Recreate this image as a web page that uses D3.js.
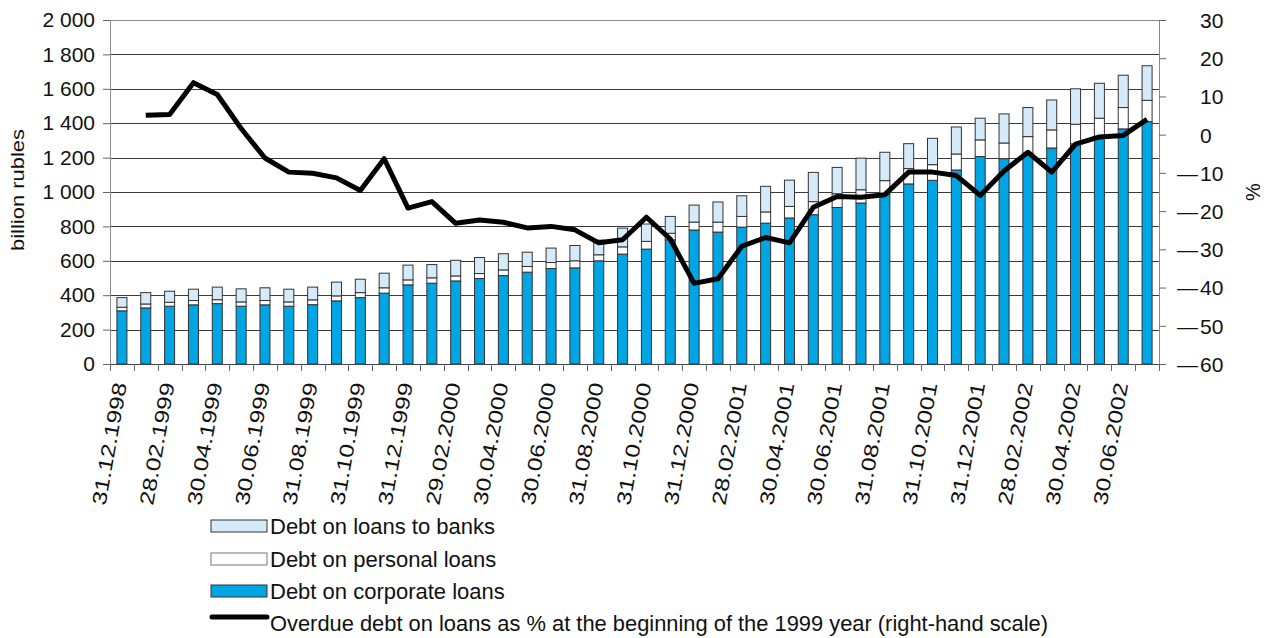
<!DOCTYPE html>
<html>
<head>
<meta charset="utf-8">
<script src="https://cdn.jsdelivr.net/npm/d3@7"></script>
<style>
  body { margin: 0; background: #fff; }
  text { font-family: "Liberation Sans", Arial, Helvetica, sans-serif; fill: #111; }
</style>
</head>
<body>
<div id="chart"></div>
<script>
// month-end dates, 31.12.1998 .. 31.07.2002
const dates = [
  '31.12.1998', '31.01.1999', '28.02.1999', '31.03.1999', '30.04.1999', '31.05.1999',
  '30.06.1999', '31.07.1999', '31.08.1999', '30.09.1999', '31.10.1999', '30.11.1999',
  '31.12.1999', '31.01.2000', '29.02.2000', '31.03.2000', '30.04.2000', '31.05.2000',
  '30.06.2000', '31.07.2000', '31.08.2000', '30.09.2000', '31.10.2000', '30.11.2000',
  '31.12.2000', '31.01.2001', '28.02.2001', '31.03.2001', '30.04.2001', '31.05.2001',
  '30.06.2001', '31.07.2001', '31.08.2001', '30.09.2001', '31.10.2001', '30.11.2001',
  '31.12.2001', '31.01.2002', '28.02.2002', '31.03.2002', '30.04.2002', '31.05.2002',
  '30.06.2002', '31.07.2002'
]

// billion rubles
const corporate = [309, 326, 336, 344, 351, 336, 344, 336, 345, 367, 386, 412, 460, 470, 483,
  497, 514, 534, 555, 559, 600, 639, 668, 722, 779, 767, 796, 819, 849, 868, 910, 936, 984,
  1047, 1068, 1128, 1206, 1194, 1225, 1256, 1280, 1320, 1367, 1409]
const personal = [21, 23, 23, 25, 23, 25, 25, 25, 28, 29, 29, 31, 29, 31, 29, 29, 33, 33, 35,
  41, 35, 42, 45, 38, 46, 58, 62, 65, 67, 76, 80, 77, 82, 89, 91, 93, 97, 91, 97, 105, 114,
  109, 124, 124]
const banks = [56, 66, 64, 66, 73, 76, 74, 74, 74, 80, 78, 85, 86, 77, 91, 93, 94, 83, 84, 89,
  85, 109, 101, 98, 99, 117, 120, 149, 153, 170, 153, 184, 165, 145, 153, 157, 126, 169, 169,
  174, 206, 203, 188, 201]

// overdue debt, % to the beginning of 1999 (right-hand scale)
const overdue = [null, 5.1, 5.3, 13.6, 10.5, 1.6, -6.1, -9.8, -10.1, -11.3, -14.6, -6.3, -19.2,
  -17.5, -23.2, -22.3, -22.9, -24.4, -24.0, -24.9, -28.3, -27.5, -21.6, -27.3, -38.9, -37.7,
  -29.2, -26.9, -28.3, -19.0, -16.2, -16.4, -15.7, -9.8, -9.8, -10.7, -15.9, -9.5, -4.6, -9.8,
  -2.5, -0.6, -0.2, 4.0]

const leftTicks = [0, 200, 400, 600, 800, 1000, 1200, 1400, 1600, 1800, 2000]
const rightTicks = [-60, -50, -40, -30, -20, -10, 0, 10, 20, 30]
const seriesKeys = ['corporate', 'personal', 'banks']
const seriesColors = ['#00a5e4', '#ffffff', '#d6ebfa']
const legendLabels = ['Debt on loans to banks', 'Debt on personal loans', 'Debt on corporate loans']
const lineLabel = 'Overdue debt on loans as % at the beginning of the 1999 year (right-hand scale)'

const margin = { top: 20, left: 110, right: 107, bottom: 274 }
const width = 1266 - margin.left - margin.right
const height = 638 - margin.top - margin.bottom

const root = d3
  .select('#chart')
  .append('svg')
  .attr('width', 1266)
  .attr('height', 638)

const svg = root
  .append('g')
  .attr('transform', 'translate(' + margin.left + ',' + margin.top + ')')

const xPositionScale = d3
  .scaleBand()
  .domain(dates)
  .range([0, width])
  .paddingInner(0.58)
  .paddingOuter(0.29)

const yPositionScale = d3.scaleLinear().domain([0, 2000]).range([height, 0])
const yRightScale = d3.scaleLinear().domain([-60, 30]).range([height, 0])

const center = d => xPositionScale(d) + xPositionScale.bandwidth() / 2

// gridlines
svg
  .append('g')
  .selectAll('line')
  .data(leftTicks.filter(d => d > 0))
  .enter()
  .append('line')
  .attr('x1', 0)
  .attr('x2', width)
  .attr('y1', d => Math.round(yPositionScale(d)) + 0.5)
  .attr('y2', d => Math.round(yPositionScale(d)) + 0.5)
  .attr('stroke', d => (d === 2000 ? '#8a8a8a' : '#3a3a3a'))
  .attr('stroke-width', 1)

// stacked bars
const rows = dates.map((d, i) => ({
  date: d,
  corporate: corporate[i],
  personal: personal[i],
  banks: banks[i]
}))
const stacked = d3.stack().keys(seriesKeys)(rows)

svg
  .append('g')
  .selectAll('g')
  .data(stacked)
  .enter()
  .append('g')
  .attr('fill', (d, i) => seriesColors[i])
  .attr('stroke', '#333')
  .attr('stroke-width', 1)
  .selectAll('rect')
  .data(d => d)
  .enter()
  .append('rect')
  .attr('x', d => xPositionScale(d.data.date))
  .attr('y', d => yPositionScale(d[1]))
  .attr('width', xPositionScale.bandwidth())
  .attr('height', d => yPositionScale(d[0]) - yPositionScale(d[1]))

// axes
const yAxis = d3
  .axisLeft(yPositionScale)
  .tickValues(leftTicks)
  .tickSize(7)
  .tickPadding(8)
  .tickFormat(d => d3.format(',')(d).replace(',', ' '))
const leftG = svg.append('g').attr('class', 'axis y-axis').call(yAxis)
leftG.select('.domain').attr('stroke', '#8a8a8a')
leftG.selectAll('.tick line').attr('stroke', '#666')
leftG.selectAll('.tick text').attr('font-size', 21).attr('fill', '#111')

const yAxisRight = d3
  .axisRight(yRightScale)
  .tickValues(rightTicks)
  .tickSize(7)
  .tickFormat('')
const rightG = svg
  .append('g')
  .attr('class', 'axis y-axis-right')
  .attr('transform', 'translate(' + width + ',0)')
  .call(yAxisRight)
rightG.select('.domain').attr('stroke', '#8a8a8a')
rightG.selectAll('.tick line').attr('stroke', '#666')
rightG
  .selectAll('.tick')
  .append('text')
  .attr('x', 41)
  .attr('dy', '0.35em')
  .attr('font-size', 21)
  .attr('fill', '#111')
  .text(d => Math.abs(d))
rightG
  .selectAll('.tick')
  .filter(d => d < 0)
  .append('text')
  .attr('x', 18)
  .attr('dy', '0.35em')
  .attr('font-size', 21)
  .attr('fill', '#111')
  .text('\u2014')

// x axis: line, ticks at band boundaries, rotated labels
const xG = svg
  .append('g')
  .attr('class', 'axis x-axis')
  .attr('transform', 'translate(0,' + height + ')')
xG.append('line')
  .attr('x1', 0)
  .attr('x2', width)
  .attr('y1', 0.5)
  .attr('y2', 0.5)
  .attr('stroke', '#444')
xG.selectAll('.tick-b')
  .data(d3.range(dates.length + 1))
  .enter()
  .append('line')
  .attr('class', 'tick-b')
  .attr('x1', i => Math.round(i * xPositionScale.step()) + 0.5)
  .attr('x2', i => Math.round(i * xPositionScale.step()) + 0.5)
  .attr('y1', 0)
  .attr('y2', 7)
  .attr('stroke', '#666')
xG.selectAll('.tick-label')
  .data(dates.filter((d, i) => i % 2 === 0))
  .enter()
  .append('text')
  .attr('class', 'tick-label')
  .attr('transform', d => 'translate(' + (center(d) + 5) + ',20) rotate(-80)')
  .attr('text-anchor', 'end')
  .attr('font-size', 20)
  .attr('textLength', 124)
  .attr('lengthAdjust', 'spacingAndGlyphs')
  .text(d => d)

// overdue line
const line = d3
  .line()
  .defined(d => d != null)
  .x((d, i) => center(dates[i]))
  .y(d => yRightScale(d))
svg
  .append('path')
  .datum(overdue)
  .attr('d', line)
  .attr('fill', 'none')
  .attr('stroke', '#000')
  .attr('stroke-width', 5)
  .attr('stroke-linejoin', 'round')

// axis titles
root
  .append('text')
  .attr('transform', 'translate(24,190) rotate(-90)')
  .attr('text-anchor', 'middle')
  .attr('font-size', 19)
  .attr('textLength', 122)
  .attr('lengthAdjust', 'spacingAndGlyphs')
  .text('billion rubles')
root
  .append('text')
  .attr('transform', 'translate(1260,192) rotate(-90)')
  .attr('text-anchor', 'middle')
  .attr('font-size', 20)
  .text('%')

// legend
const legend = root.append('g').attr('transform', 'translate(211,0)')
const legendColors = [seriesColors[2], seriesColors[1], seriesColors[0]]
const legendY = [526, 559, 591]
legendLabels.forEach((label, i) => {
  legend
    .append('rect')
    .attr('x', 0)
    .attr('y', legendY[i] - 6)
    .attr('width', 56)
    .attr('height', 12)
    .attr('fill', legendColors[i])
    .attr('stroke', i === 1 ? '#777' : '#333')
  legend
    .append('text')
    .attr('x', 59)
    .attr('y', legendY[i] + 8)
    .attr('font-size', 22)
    .text(label)
})
legend
  .append('line')
  .attr('x1', 1)
  .attr('x2', 56)
  .attr('y1', 617)
  .attr('y2', 617)
  .attr('stroke', '#000')
  .attr('stroke-width', 5)
  .attr('stroke-linecap', 'round')
legend
  .append('text')
  .attr('x', 59)
  .attr('y', 631)
  .attr('font-size', 22)
  .attr('textLength', 778)
  .attr('lengthAdjust', 'spacingAndGlyphs')
  .text(lineLabel)
</script>
</body>
</html>
